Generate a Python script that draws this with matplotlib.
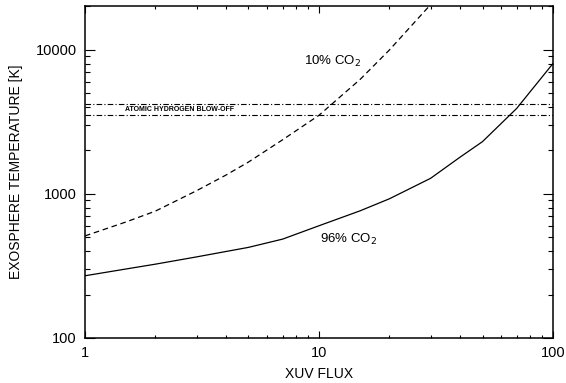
import matplotlib
matplotlib.use("Agg")
import matplotlib.pyplot as plt
from matplotlib.ticker import LogLocator, NullFormatter, FixedLocator, FixedFormatter

plt.rcParams['font.family'] = ['Liberation Sans', 'DejaVu Sans']

# Data
flux_96 = [1, 1.5, 2, 3, 5, 7, 10, 15, 20, 30, 40, 50, 70, 100]
temp_96 = [270, 301, 325, 365, 425, 485, 600, 762, 923, 1280, 1790, 2300, 3910, 8000]

flux_10 = [1, 1.5, 2, 3, 4, 5, 7, 10, 15, 20, 30]
temp_10 = [510, 638, 758, 1050, 1346, 1660, 2370, 3500, 6210, 9930, 20500]

blowoff_levels = [4200, 3500]

x_ticks = [1, 10, 100]
x_ticklabels = ["1", "10", "100"]
y_ticks = [100, 1000, 10000]
y_ticklabels = ["100", "1000", "10000"]

fig = plt.figure(figsize=(5.66, 3.83), dpi=100)
ax = fig.add_axes([0.150, 0.1175, 0.827, 0.8665])

ax.plot(flux_96, temp_96, color='black', lw=0.9)
ax.plot(flux_10, temp_10, color='black', lw=0.9, dashes=(4.5, 3))
for lv in blowoff_levels:
    ax.axhline(lv, color='black', lw=0.8, dashes=(5, 2, 1, 2))

ax.set_xscale('log')
ax.set_yscale('log')
ax.set_xlim(1, 100)
ax.set_ylim(100, 20000)

ax.xaxis.set_major_locator(FixedLocator(x_ticks))
ax.xaxis.set_major_formatter(FixedFormatter(x_ticklabels))
ax.yaxis.set_major_locator(FixedLocator(y_ticks))
ax.yaxis.set_major_formatter(FixedFormatter(y_ticklabels))
ax.xaxis.set_minor_locator(LogLocator(base=10, subs=range(2, 10)))
ax.yaxis.set_minor_locator(LogLocator(base=10, subs=range(2, 10)))
ax.xaxis.set_minor_formatter(NullFormatter())
ax.yaxis.set_minor_formatter(NullFormatter())

ax.tick_params(axis='both', which='both', direction='in', top=True, right=True,
               labelsize=10.5, width=0.8, pad=6)
ax.tick_params(axis='y', which='major', length=7)
ax.tick_params(axis='y', which='minor', length=3.5)
ax.tick_params(axis='x', which='major', length=5)
ax.tick_params(axis='x', which='minor', length=2.5)
for s in ax.spines.values():
    s.set_linewidth(1.1)

ax.set_xlabel("XUV FLUX", fontsize=10, labelpad=5)
ax.set_ylabel("EXOSPHERE TEMPERATURE [K]", fontsize=10, labelpad=9)

ax.text(11.4, 8300, "10% CO$_2$", fontsize=9.5, ha='center', va='center')
ax.text(13.4, 480, "96% CO$_2$", fontsize=9.5, ha='center', va='center')
ax.text(1.48, 3830, "ATOMIC HYDROGEN BLOW-OFF", fontsize=5, ha='left', va='center',
        fontweight='bold')

fig.savefig("out.png", dpi=100)
